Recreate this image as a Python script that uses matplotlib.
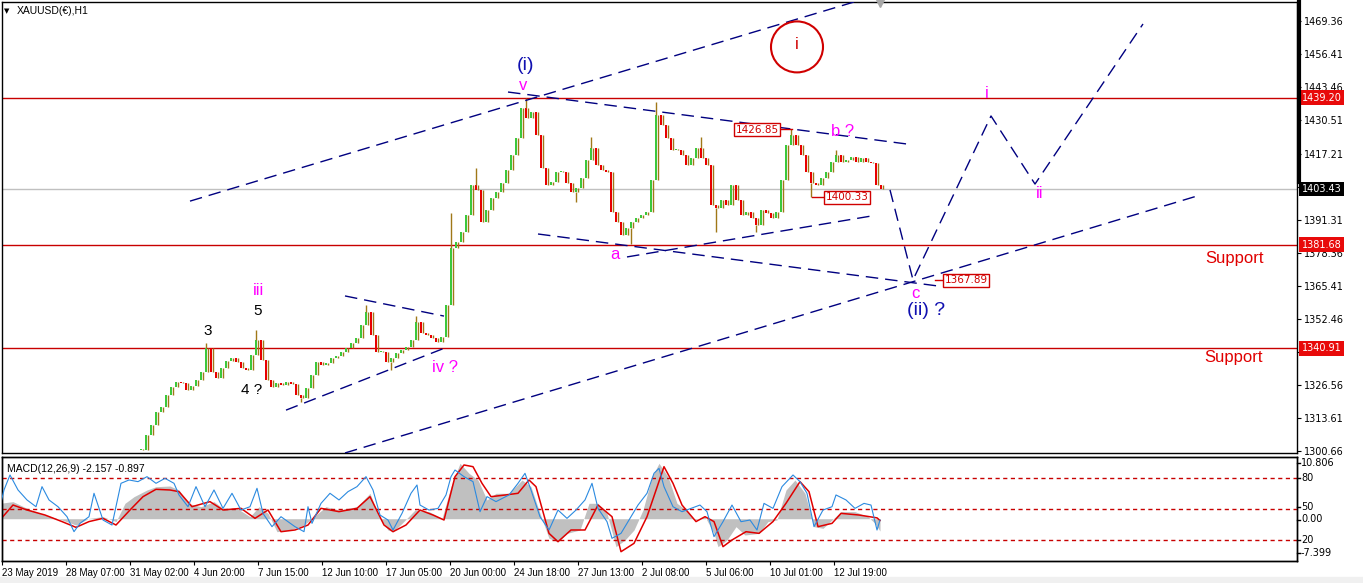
import matplotlib
matplotlib.use('Agg')
import matplotlib.pyplot as plt
from matplotlib.patches import Ellipse, Rectangle
from matplotlib.lines import Line2D

W, H, DPI = 1363, 583, 100

# ---------------- data ----------------
symbol_title = "XAUUSD(€),H1"
macd_title = "MACD(12,26,9) -2.157 -0.897"

bar_start = 141   # first plotted hourly bar (chart bar index)
bar_step = 5      # hourly bars per plotted candle

closes = [1301.0, 1306.9, 1310.9, 1316.0, 1317.9, 1322.6, 1325.8, 1327.7, 1327.3, 1324.6,
          1326.2, 1328.5, 1331.7, 1341.1, 1331.7, 1329.3, 1333.2, 1336.0, 1337.1, 1335.6,
          1333.2, 1332.4, 1338.3, 1344.2, 1336.4, 1328.5, 1325.8, 1327.3, 1326.6, 1327.7,
          1327.0, 1322.6, 1321.5, 1325.4, 1330.5, 1335.6, 1334.4, 1335.2, 1337.1, 1337.9,
          1339.5, 1341.1, 1343.0, 1345.0, 1350.1, 1355.2, 1346.2, 1339.5, 1339.5, 1335.6,
          1337.1, 1339.1, 1340.3, 1341.5, 1344.2, 1351.3, 1347.0, 1346.2, 1345.0, 1343.4,
          1345.4, 1357.9, 1380.3, 1382.7, 1386.6, 1393.2, 1405.0, 1403.1, 1390.5, 1395.2,
          1399.9, 1402.3, 1405.8, 1410.9, 1416.8, 1423.5, 1435.2, 1431.3, 1433.7, 1424.6,
          1411.7, 1405.0, 1406.2, 1410.1, 1410.1, 1405.8, 1402.3, 1403.8, 1407.8, 1414.8,
          1419.5, 1412.9, 1410.9, 1410.1, 1394.4, 1390.5, 1385.4, 1388.1, 1390.5, 1392.1,
          1393.2, 1394.4, 1407.0, 1432.5, 1428.6, 1423.5, 1418.8, 1418.8, 1416.8, 1412.9,
          1415.6, 1419.5, 1415.6, 1412.9, 1397.2, 1396.0, 1399.1, 1397.2, 1405.0, 1399.1,
          1393.2, 1394.4, 1392.1, 1389.3, 1395.2, 1394.0, 1392.1, 1394.4, 1407.0, 1420.7,
          1424.6, 1420.7, 1416.8, 1410.1, 1405.8, 1405.0, 1407.8, 1410.1, 1414.0, 1416.8,
          1414.0, 1414.8, 1416.0, 1414.0, 1415.6, 1414.0, 1413.6, 1405.0, 1403.4]

hi_idx = [13, 23, 45, 55, 62, 67, 77, 90, 103, 112, 130, 139]
hi_val = [1343.0, 1348.1, 1357.9, 1353.6, 1394.0, 1411.7, 1439.2, 1423.9, 1437.6, 1423.9, 1426.85, 1418.8]
lo_idx = [32, 50, 87, 98, 115, 123, 134]
lo_val = [1319.9, 1332.4, 1398.3, 1381.7, 1386.6, 1386.6, 1400.33]

red_levels = [1439.20, 1381.68, 1340.91]
last_price = 1403.43

price_ticks = [1469.36, 1456.41, 1443.46, 1430.51, 1417.21, 1404.26, 1391.31,
               1378.36, 1365.41, 1352.46, 1339.51, 1326.56, 1313.61, 1300.66]

date_bars = [2, 66, 130, 194, 258, 322, 386, 450, 514, 578, 642, 706, 770, 834]
date_labels = ["23 May 2019", "28 May 07:00", "31 May 02:00", "4 Jun 20:00", "7 Jun 15:00",
               "12 Jun 10:00", "17 Jun 05:00", "20 Jun 00:00", "24 Jun 18:00", "27 Jun 13:00",
               "2 Jul 08:00", "5 Jul 06:00", "10 Jul 01:00", "12 Jul 19:00"]

macd_x = [0, 13, 27, 45, 62, 76, 89, 103, 116, 125, 134, 147, 156, 170, 179, 188, 201, 214, 223, 237,
          250, 259, 268, 277, 290, 304, 312, 326, 339, 357, 370, 379, 388, 393, 402, 415, 429, 442, 451, 460,
          469, 478, 487, 496, 509, 522, 531, 540, 549, 558, 567, 580, 589, 598, 607, 616, 625, 634, 643, 652,
          659, 668, 677, 686, 695, 705, 714, 718, 727, 736, 745, 759, 768, 777, 786, 795, 805, 814, 823, 832,
          841, 855, 868, 875, 880]
macd_main = [2.70, 2.99, 1.82, 0.65, -0.22, -1.10, 0.07, 0.36, -0.50, 2.70,
             3.86, 5.03, 5.61, 5.73, 5.03, 2.70, 2.11, 2.99, 1.82, 1.82,
             0.36, 2.11, 0.94, -2.27, -1.97, -1.10, 0.07, 2.11, 1.53, 2.11,
             4.45, 0.36, -1.97, -2.27, -0.81, 1.53, 1.24, 0.07, 5.61, 9.70,
             7.95, 6.78, 3.28, 4.45, 4.45, 6.78, 5.61, 0.94, -3.43, -4.02,
             -2.56, -1.97, 2.70, 2.70, 0.94, -4.89, -3.72, -1.97, 1.53, 7.36,
             9.70, 7.36, 2.70, 1.53, -0.22, 0.36, -2.56, -4.89, -3.72, -1.39,
             -2.85, -2.56, -0.50, -0.22, 5.03, 6.78, 4.45, -1.39, -1.68, -0.22,
             1.24, 1.24, 0.36, -0.80, -2.16]

sig_x = [0, 13, 27, 45, 62, 76, 89, 103, 116, 130, 143, 156, 170, 179, 192, 210, 223, 241, 255, 268,
         281, 295, 308, 321, 339, 357, 370, 384, 393, 406, 420, 433, 444, 455, 464, 473, 482, 491, 505, 518,
         529, 536, 549, 558, 571, 585, 598, 612, 621, 634, 647, 664, 673, 682, 696, 705, 714, 723, 732, 746,
         759, 773, 786, 800, 809, 818, 832, 841, 859, 877, 880]
sig_val = [-0.22, 2.40, 1.53, 0.65, -0.50, -1.51, -0.50, 0.07, -1.10, 1.53,
           3.86, 5.15, 5.03, 4.74, 2.11, 2.99, 1.53, 1.82, 0.07, 1.53,
           -2.27, -1.97, -1.10, 1.82, 1.24, 1.82, 3.86, -1.10, -2.27, -1.10,
           1.53, 0.65, -0.22, 7.36, 9.41, 9.11, 6.20, 3.86, 4.15, 4.45,
           6.78, 5.61, -2.56, -4.02, -1.97, -1.97, 2.40, 0.36, -5.77, -4.31,
           0.36, 9.11, 6.20, 2.40, -0.50, 0.36, -0.50, -4.89, -3.72, -2.27,
           -2.56, -0.50, 2.70, 6.49, 4.74, -1.39, -0.81, 0.94, 0.65, 0.15, -0.30]

osc_x = [0, 4, 10, 18, 27, 36, 42, 49, 58, 67, 74, 80, 89, 94, 103, 112, 121, 129, 138, 147,
         156, 165, 174, 179, 188, 196, 205, 214, 223, 232, 241, 250, 257, 263, 272, 281, 295, 304, 308, 312,
         321, 330, 339, 348, 357, 366, 373, 380, 388, 393, 402, 411, 417, 420, 429, 438, 446, 451, 455, 464,
         473, 480, 487, 496, 509, 518, 525, 531, 540, 549, 558, 567, 576, 585, 592, 598, 607, 612, 621, 630,
         638, 647, 654, 659, 664, 673, 682, 691, 700, 707, 714, 723, 732, 741, 750, 757, 764, 773, 782, 793,
         800, 807, 814, 823, 832, 836, 846, 855, 864, 871, 877, 880]
osc_val = [52.2, 68.3, 82.7, 68.3, 58.7, 52.2, 71.5, 58.7, 52.2, 42.6,
           28.2, 36.2, 42.6, 65.1, 39.4, 34.6, 74.7, 77.9, 76.3, 81.1,
           74.7, 79.5, 74.7, 63.5, 52.2, 71.5, 52.2, 68.3, 50.6, 65.1,
           49.0, 52.2, 69.9, 45.8, 33.0, 42.6, 33.0, 28.2, 52.2, 36.2,
           55.4, 65.1, 58.7, 66.7, 71.5, 81.1, 68.3, 44.2, 39.4, 29.8,
           45.8, 65.1, 73.1, 53.8, 49.0, 50.6, 63.5, 81.1, 87.5, 81.1,
           76.3, 47.4, 61.9, 57.1, 63.5, 74.7, 84.3, 68.3, 42.6, 29.8,
           49.0, 41.0, 49.0, 58.7, 74.7, 50.6, 37.8, 21.8, 26.6, 41.0,
           53.8, 65.1, 84.3, 89.1, 71.5, 52.2, 47.4, 50.6, 53.8, 47.4,
           23.4, 37.8, 53.8, 37.8, 39.4, 29.8, 55.4, 50.6, 71.5, 82.7,
           76.3, 65.1, 33.0, 49.0, 52.2, 63.5, 58.7, 50.6, 55.4, 53.8,
           29.8, 39.4]
osc_levels = [80, 50, 20]

# trend lines (bar, price)
channel_up_x, channel_up_y = [190, 870], [1398.7, 1478.7]
channel_lo_x, channel_lo_y = [345, 1197], [1299.9, 1400.7]
tri_top_x, tri_top_y = [508, 907], [1441.5, 1421.1]
tri_low1_x, tri_low1_y = [538, 938], [1385.8, 1365.4]
tri_low2_x, tri_low2_y = [627, 872], [1376.8, 1392.9]
wedge_top_x, wedge_top_y = [345, 444], [1361.5, 1353.6]
wedge_bot_x, wedge_bot_y = [286, 445], [1316.7, 1341.1]
proj_x = [890, 913, 991, 1035, 1143]
proj_y = [1403.1, 1367.8, 1432.1, 1405.4, 1468.2]

# ---------------- figure ----------------
fig = plt.figure(figsize=(W / DPI, H / DPI), dpi=DPI, facecolor='white')

def fx(px):
    return px / W

def fy(py):
    return 1 - py / H

SMALL = 'Liberation Sans'

ax = fig.add_axes([fx(2), fy(453), 1295 / W, 451 / H])
ax2 = fig.add_axes([fx(2), fy(561), 1295 / W, 104 / H])
ax3 = ax2.twinx()

XMIN, XMAX = 2, 1297
ax.set_xlim(XMIN, XMAX)
ax.set_ylim(1299.88, 1476.82)

# horizontal levels
for lv in red_levels:
    ax.axhline(lv, color='#c80000', lw=1, zorder=1)
ax.axhline(last_price, color='#c0c0c0', lw=1, zorder=1)

# candles
xs = [bar_start + bar_step * i for i in range(len(closes))]
opens = [closes[0]] + closes[:-1]
bottoms, heights, cols = [], [], []
for o, c in zip(opens, closes):
    bottoms.append(min(o, c))
    heights.append(max(abs(c - o), 0.35))
    cols.append('#3cc83c' if c >= o else '#e80000')
ax.bar(xs, heights, bottom=bottoms, width=2.6, color=cols, linewidth=0, zorder=3)
ax.vlines([x + 1.8 for x in xs], bottoms, [b + h for b, h in zip(bottoms, heights)],
          color='#a07818', lw=1, zorder=3.5)
for i, v in zip(hi_idx, hi_val):
    ax.vlines(xs[i], max(opens[i], closes[i]), v, color='#a07818', lw=1, zorder=3)
for i, v in zip(lo_idx, lo_val):
    ax.vlines(xs[i], v, min(opens[i], closes[i]), color='#a07818', lw=1, zorder=3)

# dashed trend lines
dash = (0, (9, 5))
navy = '#000080'
for lx, ly in [(channel_up_x, channel_up_y), (channel_lo_x, channel_lo_y),
               (tri_top_x, tri_top_y), (tri_low1_x, tri_low1_y), (tri_low2_x, tri_low2_y),
               (wedge_top_x, wedge_top_y), (wedge_bot_x, wedge_bot_y), (proj_x, proj_y)]:
    ax.plot(lx, ly, color=navy, lw=1, linestyle=dash, zorder=4)

# price axis on the right
ax.yaxis.tick_right()
ax.set_yticks(price_ticks)
ax.set_yticklabels([f"{t:.2f}" for t in price_ticks])
ax.tick_params(axis='y', direction='out', length=3, pad=2, labelsize=7, colors='black')
ax.set_xticks([])
for s in ax.spines.values():
    s.set_linewidth(1)
    s.set_color('black')

ytr = ax.get_yaxis_transform()
for lv in red_levels:
    ax.text(1.0035, lv, f"{lv:.2f}", transform=ytr, ha='left', va='center', fontsize=7,
            color='white', zorder=10, clip_on=False,
            bbox=dict(boxstyle='square,pad=0.25', fc='#e80a0a', ec='none'))
ax.text(1.0035, last_price, f"{last_price:.2f}", transform=ytr, ha='left', va='center', fontsize=7,
        color='white', zorder=10, clip_on=False,
        bbox=dict(boxstyle='square,pad=0.25', fc='black', ec='none'))

# annotations
mag = '#ff00ff'
blue = '#1010b0'
lab = dict(ha='center', va='center', zorder=6, family='Liberation Sans')
ax.text(525, 1452.1, "(i)", color=blue, fontsize=14, **lab)
ax.text(523, 1444.2, "v", color=mag, fontsize=12, **lab)
ax.add_patch(Ellipse((797, 1459.2), 52, 20.0, fill=False, ec='#d00000', lw=1.5, zorder=6))
ax.text(797, 1460.0, "i", color='#d00000', fontsize=12, **lab)
ax.text(843, 1426.0, "b ?", color=mag, fontsize=12, **lab)
ax.text(615, 1377.9, "a", color=mag, fontsize=12, **lab)
ax.text(915, 1362.6, "c", color=mag, fontsize=12, **lab)
ax.text(926, 1355.6, "(ii) ?", color=blue, fontsize=14, **lab)
ax.text(987, 1441.1, "i", color=mag, fontsize=12, **lab)
ax.text(1040, 1401.5, "ii", color=mag, fontsize=12, **lab)
ax.text(1235, 1376.0, "Support", color='#e00000', fontsize=12, **lab)
ax.text(1234, 1337.5, "Support", color='#e00000', fontsize=12, **lab)
ax.text(258, 1363.8, "iii", color=mag, fontsize=12, **lab)
ax.text(258, 1355.6, "5", color='black', fontsize=11, **lab)
ax.text(208, 1347.7, "3", color='black', fontsize=11, **lab)
ax.text(252, 1324.6, "4 ?", color='black', fontsize=11, **lab)
ax.text(445, 1333.6, "iv ?", color=mag, fontsize=12, **lab)

# price callouts
for cx_, val, x0, x1 in [(757, 1426.85, 778, 792), (847, 1400.33, 812, 827), (966, 1367.89, 935, 945)]:
    ax.plot([x0, x1], [val, val], color='#d00000', lw=1, zorder=6)
    ax.text(cx_, val - 0.2, f"{val:.2f}", color='#d00000', fontsize=7.5, ha='center', va='center',
            zorder=7, bbox=dict(boxstyle='square,pad=0.15', fc='white', ec='#d00000', lw=1))

# chart shift marker
ax.plot([880], [1476.82], marker='v', color='#a8a8a8', ms=7, clip_on=False, zorder=8)

# ---------------- MACD panel ----------------
ax2.set_xlim(XMIN, XMAX)
ax2.set_ylim(-7.399, 10.806)
ax2.fill_between(macd_x, 0, macd_main, color='#c0c0c0', lw=0, zorder=1)
ax2.plot(sig_x, sig_val, color='#e00000', lw=1.1, zorder=3)
ax3.set_ylim(0, 100)
for lv in osc_levels:
    ax3.axhline(lv, color='#c80000', lw=1, linestyle=(0, (3, 2.5)), zorder=1)
ax3.plot(osc_x, osc_val, color='#2b8ae0', lw=0.8, zorder=4)
ax3.set_yticks([])
ax2.set_yticks([])
ax2.set_xticks(date_bars)
ax2.set_xticklabels(date_labels, family=SMALL)
ax2.tick_params(axis='x', direction='out', length=3, pad=2, labelsize=7, colors='black')
for lbl in ax2.get_xticklabels():
    lbl.set_ha('left')
for a in (ax2, ax3):
    for s in a.spines.values():
        s.set_linewidth(1)
        s.set_color('black')
ax2.text(0.004, 0.93, macd_title, transform=ax2.transAxes, fontsize=7.5, family=SMALL,
         ha='left', va='top')

for txt, py in [("10.806", 463), ("80", 478), ("50", 507), ("0.00", 519.5), ("20", 540), ("-7.399", 553)]:
    fig.text(fx(1301), fy(py), txt, fontsize=7, ha='left', va='center')
    fig.add_artist(Line2D([fx(1297), fx(1300)], [fy(py), fy(py)], color='black', lw=1))

# title
fig.text(fx(4), fy(11), "▼", fontsize=5, ha='left', va='center')
fig.text(fx(17), fy(11), symbol_title, fontsize=7.5, family=SMALL, ha='left', va='center')

# thick price-scale marker and bottom strip
fig.add_artist(Line2D([fx(1298.5), fx(1298.5)], [fy(1), fy(182)], color='black', lw=3))
fig.add_artist(Rectangle((0, 0), 1, 6 / H, transform=fig.transFigure, color='#f0f0f0', zorder=0))

fig.savefig('out.png', dpi=DPI, facecolor='white')
